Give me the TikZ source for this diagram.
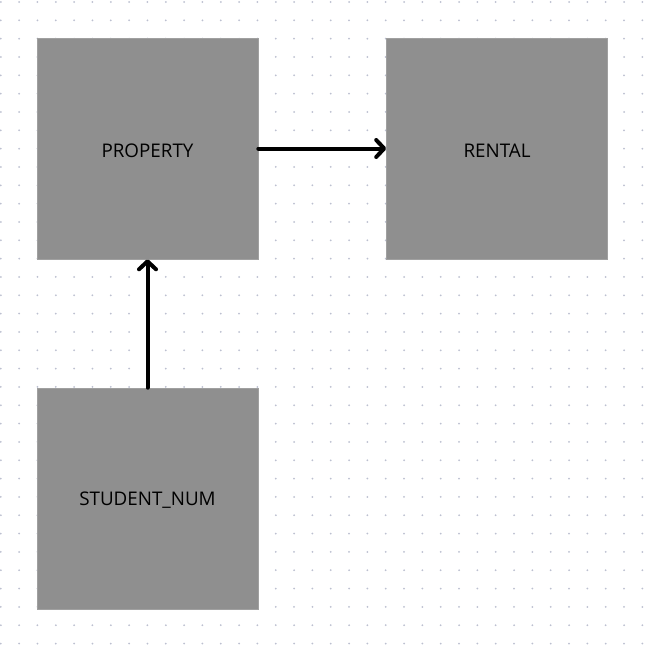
\documentclass[tikz,border=0pt]{standalone}
\usepackage{fontspec}
\setmainfont{Open Sans}
\usetikzlibrary{arrows.meta}
\definecolor{boxgray}{RGB}{143,143,143}
\definecolor{dotcol}{RGB}{188,192,208}
\tikzset{
  entity/.style={draw=boxgray!85!white, line width=0.6pt, fill=boxgray, minimum width=221pt, minimum height=221pt, inner sep=0pt, font=\fontsize{18.8}{22}\selectfont, text=black},
  link/.style={line width=4pt, -{Straight Barb[length=8pt, width=17pt, round]}, line cap=round}
}
\newcommand{\lbl}[1]{\raisebox{-2pt}[\height][\depth]{#1}}
\begin{document}
\begin{tikzpicture}[x=1pt,y=-1pt]
\useasboundingbox (0,0) rectangle (647,648);
\fill[white] (0,0) rectangle (647,648);
\foreach \i in {0,...,35}{
  \foreach \j in {0,...,35}{
    \fill[dotcol] ({0.8+18.33*\i},{2+18.33*\j}) circle (1pt);
  }
}
\node[entity] (property) at (147.5,148.5) {\lbl{PROPERTY}};
\node[entity] (rental) at (497,148.5) {\lbl{RENTAL}};
\node[entity] (student) at (147.5,498.5) {\lbl{STUDENT\_NUM}};
\draw[link] (property.east) -- (rental.west);
\draw[link] (student.north) -- (property.south);
\end{tikzpicture}
\end{document}
